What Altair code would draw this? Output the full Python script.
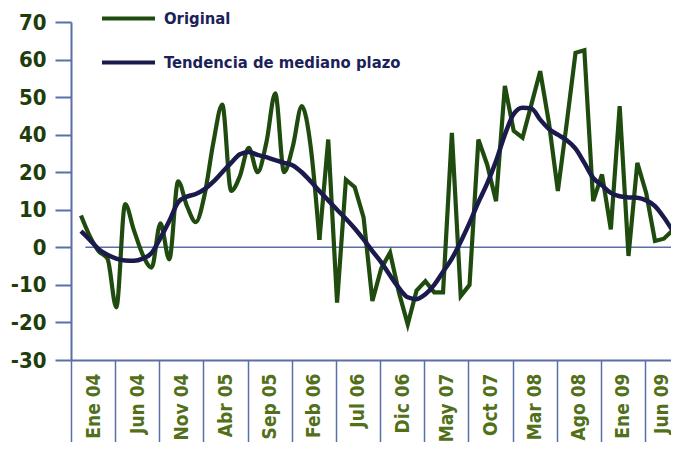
import json
import altair as alt
import pandas as pd

# ---- data (monthly index 0 = Ene 04) ----
original = [8.5, 3, -1, -3, -16, 11.5, 4.5, -2, -5.4, 6.4,
            -3.2, 17.6, 11, 6.7, 14, 28, 38, 15, 19, 26.5,
            20, 28, 41, 20, 27, 37.6, 27, 2, 28.7, -14.7,
            18, 16, 8, -14.3, -5.6, -1.4, -12, -20.5, -11.5, -9,
            -12, -12, 30.5, -13, -10, 28.7, 22, 12.3, 43, 31,
            29.2, 38, 46.9, 33, 15, 33, 51.8, 52.5, 12.3, 19.4,
            4.8, 37.6, -2.3, 22.5, 14.5, 1.7, 2.3, 4.5, 7]
trend = [4.3, 2, -0.5, -2, -3, -3.5, -3.6, -3, -1.5, 2.5,
         7, 12, 13.5, 14.2, 15.5, 17.5, 20, 22.5, 24.8, 25.4,
         24.6, 24, 23.2, 22.5, 21.8, 20, 17.6, 15, 12.5, 10,
         7.6, 5, 2.1, -1, -4, -7.5, -10.8, -13.3, -13.8, -12.5,
         -10, -6.5, -3, 1.5, 6.5, 12, 17, 23, 30, 35.5,
         37.2, 37, 34, 31.5, 30, 28.5, 26.3, 22.5, 18.5, 16.5,
         14.5, 13.6, 13.3, 13.2, 12.5, 11, 8, 4.5, 1.5]
series_names = ["Original", "Tendencia de mediano plazo"]
x_labels = ["Ene 04", "Jun 04", "Nov 04", "Abr 05", "Sep 05", "Feb 06", "Jul 06",
            "Dic 06", "May 07", "Oct 07", "Mar 08", "Ago 08", "Ene 09", "Jun 09"]
y_tick_values = [-30, -20, -10, 0, 10, 20, 30, 40, 50, 60]
y_tick_labels = ["-30", "-20", "-10", "0", "10", "20", "40", "50", "60", "70"]
smooth_until = 27  # the original series is drawn smoothed up to this month, straight after

PLOT_W = 600
PX_PER_MONTH = 8.831
X_MIN = -1.13
X_MAX = X_MIN + PLOT_W / PX_PER_MONTH
band_edges = [X_MIN + 5 * k for k in range(len(x_labels))]

n = len(original)
df_orig = pd.DataFrame({"mes": list(range(n)), "valor": original, "serie": series_names[0]})
df_orig_a = df_orig[df_orig["mes"] <= smooth_until]
df_orig_b = df_orig[df_orig["mes"] >= smooth_until]
df_trend = pd.DataFrame({"mes": list(range(len(trend))), "valor": trend, "serie": series_names[1]})
df_zero = pd.DataFrame({"x": [0.5], "x2": [X_MAX], "y": [0]})

GREEN = "#1f4b0f"
NAVY = "#1b1a4d"
AXIS = "#5a6ea8"
FONT = "Liberation Sans Narrow, DejaVu Sans Condensed, Roboto, sans-serif"

x_scale = alt.Scale(domain=[X_MIN, X_MAX], nice=False, zero=False)
y_scale = alt.Scale(domain=[-30, 60], nice=False, zero=False)

last_edge = band_edges[-1]
x_axis = alt.Axis(
    values=band_edges,
    labelExpr=f"{json.dumps(x_labels)}[round((datum.value - ({X_MIN})) / 5)]",
    title=None, grid=False,
    domainColor=AXIS, domainWidth=2,
    tickColor=AXIS, tickWidth=1.5, tickSize=90,
    labelAngle=270, labelAlign="right", labelBaseline="middle",
    labelOffset={"condition": {"test": f"datum.value > {last_edge - 1}", "value": 16}, "value": 22},
    labelPadding=-77,
    labelFont=FONT, labelFontSize=19, labelFontWeight="bold", labelColor="#52701a",
    labelOverlap=False, labelFlush=False, labelLimit=200,
)
y_axis = alt.Axis(
    values=y_tick_values,
    labelExpr=f"{json.dumps(y_tick_labels)}[indexof({json.dumps(y_tick_values)}, datum.value)]",
    title=None, grid=False,
    domainColor=AXIS, domainWidth=2,
    tickColor=AXIS, tickWidth=2, tickSize=16,
    labelPadding=9,
    labelFont=FONT, labelFontSize=22, labelFontWeight="bold", labelColor="#1f3d0b",
    labelOverlap=False, labelFlush=False,
)

color = alt.Color(
    "serie:N",
    scale=alt.Scale(domain=series_names, range=[GREEN, NAVY]),
    legend=alt.Legend(
        title=None, orient="none", legendX=29, legendY=-32,
        symbolType="stroke", symbolSize=2809, symbolStrokeWidth=4,
        labelFont=FONT, labelFontSize=16.5, labelFontWeight="bold", labelColor="#1b2259",
        labelOffset=7, rowPadding=7, padding=0, labelLimit=400,
    ),
)

zero = alt.Chart(df_zero).mark_rule(color=AXIS, strokeWidth=1.5).encode(
    x=alt.X("x:Q", scale=x_scale, axis=x_axis),
    x2="x2:Q",
    y=alt.Y("y:Q", scale=y_scale, axis=y_axis),
)

def orig_layer(d, interp):
    return alt.Chart(d).mark_line(strokeWidth=4.2, interpolate=interp, clip=True).encode(
        x=alt.X("mes:Q", scale=x_scale, axis=x_axis),
        y=alt.Y("valor:Q", scale=y_scale, axis=y_axis),
        color=color,
    )

line_trend = alt.Chart(df_trend).mark_line(strokeWidth=4.5, interpolate="monotone", clip=True).encode(
    x=alt.X("mes:Q", scale=x_scale, axis=x_axis),
    y=alt.Y("valor:Q", scale=y_scale, axis=y_axis),
    color=color,
)

chart = alt.layer(
    zero, orig_layer(df_orig_a, "monotone"), orig_layer(df_orig_b, "linear"), line_trend
).properties(
    width=PLOT_W, height=338,
    autosize=alt.AutoSizeParams(type="none"),
    padding={"left": 63, "top": 14, "right": 0, "bottom": 82},
    background="white",
).configure_view(stroke=None)

chart.save("out.html", embed_options={"renderer": "svg", "actions": False})
